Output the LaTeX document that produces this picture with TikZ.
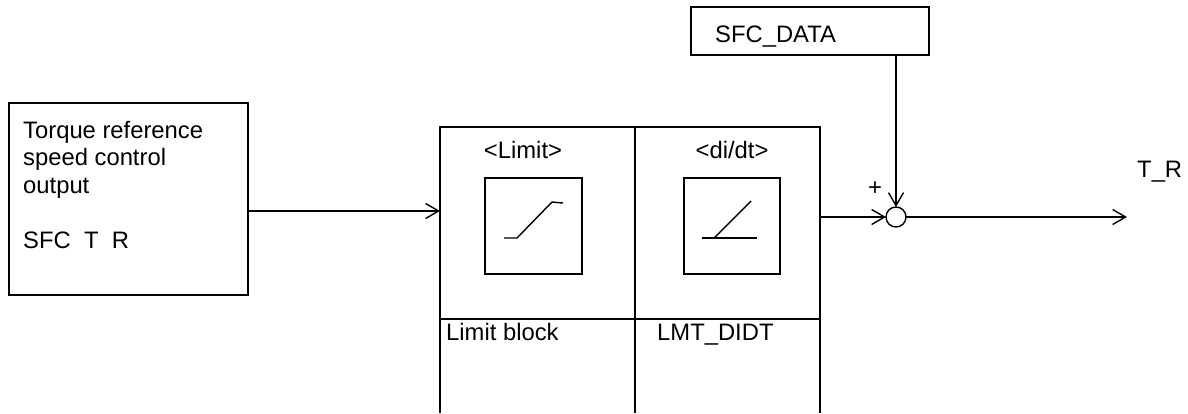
\documentclass[tikz,border=0pt]{standalone}
\usepackage{fontspec}
\setmainfont{Liberation Sans}
\usetikzlibrary{arrows.meta}
\tikzset{
  blockbox/.style={draw, line width=1.4pt, inner sep=0pt, outer sep=0pt, anchor=north west},
  blocktext/.style={inner sep=0pt, anchor=base west, font=\fontsize{23.8}{27.7}\selectfont},
  sigline/.style={line width=1.4pt, -{Straight Barb[length=13pt,width=15pt,line width=1.4pt]}},
  curveline/.style={line width=1.4pt}
}
\begin{document}
\begin{tikzpicture}[x=1pt, y=-1pt]
  \useasboundingbox (0,0) rectangle (1188,413);

  \node[blockbox, minimum width=239pt, minimum height=192pt] (refbox) at (9,103) {};
  \node[blocktext, anchor=north west, align=left] (reftext) at (23,120.6) {Torque reference\\speed control\\output\\ \\SFC\ \ T\ \ R};

  \node[blockbox, minimum width=195pt, minimum height=192pt] (limitcell) at (440,127) {};
  \node[blockbox, minimum width=185pt, minimum height=192pt] (didtcell) at (635,127) {};
  \node[blockbox, minimum width=238pt, minimum height=48pt] (sfcdata) at (691,7) {};
  \node[blockbox, minimum width=97pt, minimum height=96pt] (limitbox) at (485,178) {};
  \node[blockbox, minimum width=96pt, minimum height=96pt] (didtbox) at (684,178) {};
  \node[draw, circle, line width=1.4pt, inner sep=0pt, outer sep=0pt, minimum size=20pt] (sumnode) at (896,217) {};

  \node[blocktext, anchor=base] (limittitle) at (523,158) {<Limit>};
  \node[blocktext, anchor=base] (didttitle) at (732,158) {<di/dt>};
  \node[blocktext] (limitname) at (446,340) {Limit block};
  \node[blocktext] (didtname) at (657,340) {LMT\_DIDT};
  \node[blocktext] (sfcname) at (715,42) {SFC\_DATA};
  \node[blocktext] (outname) at (1137,177) {T\_R};
  \node[blocktext, anchor=center] (plusname) at (875,189) {+};

  \coordinate (limitin) at (440,211);
  \coordinate (outend) at (1127,217);
  \coordinate (bottomedge) at (0,413);

  \draw[sigline] (refbox.east |- limitin) -- (limitin);
  \draw[sigline] (didtcell.east |- sumnode) -- (sumnode);
  \draw[sigline] (sumnode |- sfcdata.south) -- (sumnode);
  \draw[sigline] (sumnode) -- (outend);

  % open lower part of the block
  \draw[curveline] (limitcell.south west) -- (limitcell.south west |- bottomedge);
  \draw[curveline] (limitcell.south east) -- (limitcell.south east |- bottomedge);
  \draw[curveline] (didtcell.south east) -- (didtcell.south east |- bottomedge);

  \draw[curveline] (504,238) -- (517,238) -- (552,202) -- (563,203); % limit curve
  \draw[curveline] (702,238) -- (757,238); % di/dt curve
  \draw[curveline] (714,238) -- (751,201);
\end{tikzpicture}
\end{document}
